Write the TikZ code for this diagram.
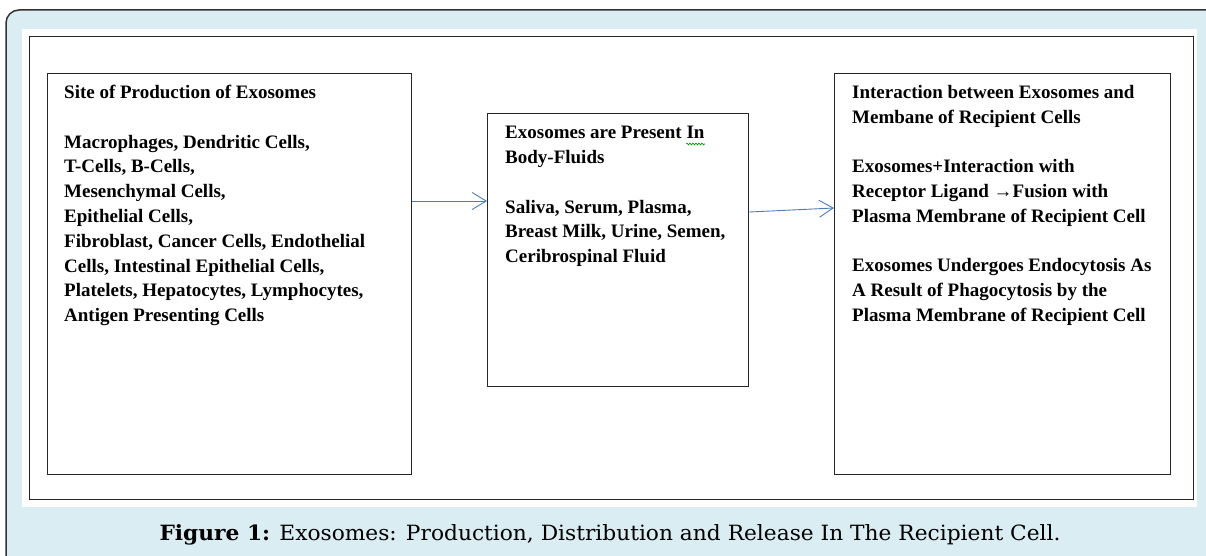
\documentclass[tikz,border=0pt]{standalone}
\usepackage{fontspec}
\setmainfont{Liberation Serif}
\newfontfamily\capfont{DejaVu Serif}
\usetikzlibrary{arrows.meta,decorations.pathmorphing}
\definecolor{framebg}{HTML}{DAEDF2}
\definecolor{arrowblue}{HTML}{4A7EBB}
\tikzset{
  box/.style={draw=black!85, line width=1.3pt, fill=white, anchor=north west, inner sep=0pt},
  txt/.style={anchor=north west, inner sep=0pt, align=left,
    font=\bfseries\fontsize{19}{24.8}\selectfont},
  flow/.style={draw=arrowblue, line width=0.9pt, -{Straight Barb[length=14pt,width=17pt,line width=0.9pt]}}
}
\begin{document}
\begin{tikzpicture}[x=1pt,y=1pt]
\useasboundingbox (0,0) rectangle (1206,-556);
\fill[white] (0,0) rectangle (1206,-556);
% outer frame
\draw[draw=black!80, line width=1.5pt, fill=framebg, rounded corners=13pt] (6,-10) rectangle (1230,-580);
\fill[white] (22,-29) rectangle (1197,-507);
\node[box, minimum width=1164pt, minimum height=463pt] (outer) at (29,-36) {};
% boxes
\node[box, minimum width=364pt, minimum height=401pt] (b1) at (47,-73) {};
\node[box, minimum width=261pt, minimum height=273pt] (b2) at (487,-113) {};
\node[box, minimum width=336pt, minimum height=401pt] (b3) at (834,-73) {};
% texts
\node[txt] (t1) at ([xshift=17pt,yshift=-12pt]b1.north west) {Site of Production of Exosomes\\[24.8pt]
Macrophages, Dendritic Cells,\\
T-Cells, B-Cells,\\
Mesenchymal Cells,\\
Epithelial Cells,\\
Fibroblast, Cancer Cells, Endothelial\\
Cells, Intestinal Epithelial Cells,\\
Platelets, Hepatocytes, Lymphocytes,\\
Antigen Presenting Cells};
\node[txt] (t2) at ([xshift=18pt,yshift=-13pt]b2.north west) {Exosomes are Present In\\
Body-Fluids\\[24.8pt]
Saliva, Serum, Plasma,\\
Breast Milk, Urine, Semen,\\
Ceribrospinal Fluid};
\node[txt] (t3) at ([xshift=18pt,yshift=-12pt]b3.north west) {Interaction between Exosomes and\\
Membane of Recipient Cells\\[24.8pt]
Exosomes+Interaction with\\
Receptor Ligand →Fusion with\\
Plasma Membrane of Recipient Cell\\[24.8pt]
Exosomes Undergoes Endocytosis As\\
A Result of Phagocytosis by the\\
Plasma Membrane of Recipient Cell};
% spell-check underline under "In"
\coordinate (w1) at (686,-144);
\coordinate (w2) at (705,-144);
\draw[green!60!black, line width=0.6pt, decorate, decoration={snake, amplitude=1pt, segment length=3pt}] (w1) -- (w2);
% arrows
\coordinate (a1s) at (b1.east |- 0,-201);
\coordinate (a1e) at (b2.west |- 0,-201);
\draw[flow] (a1s) -- (a1e);
\coordinate (a2s) at (b2.east |- 0,-212);
\coordinate (a2e) at (b3.west |- 0,-208);
\draw[flow] (a2s) -- (a2e);
% caption
\node[inner sep=0pt, font=\capfont\fontsize{21}{24}\selectfont] (cap) at (610,-535) {\scalebox{1.035}[1]{\textbf{Figure 1:} Exosomes: Production, Distribution and Release In The Recipient Cell.}};
\end{tikzpicture}
\end{document}
